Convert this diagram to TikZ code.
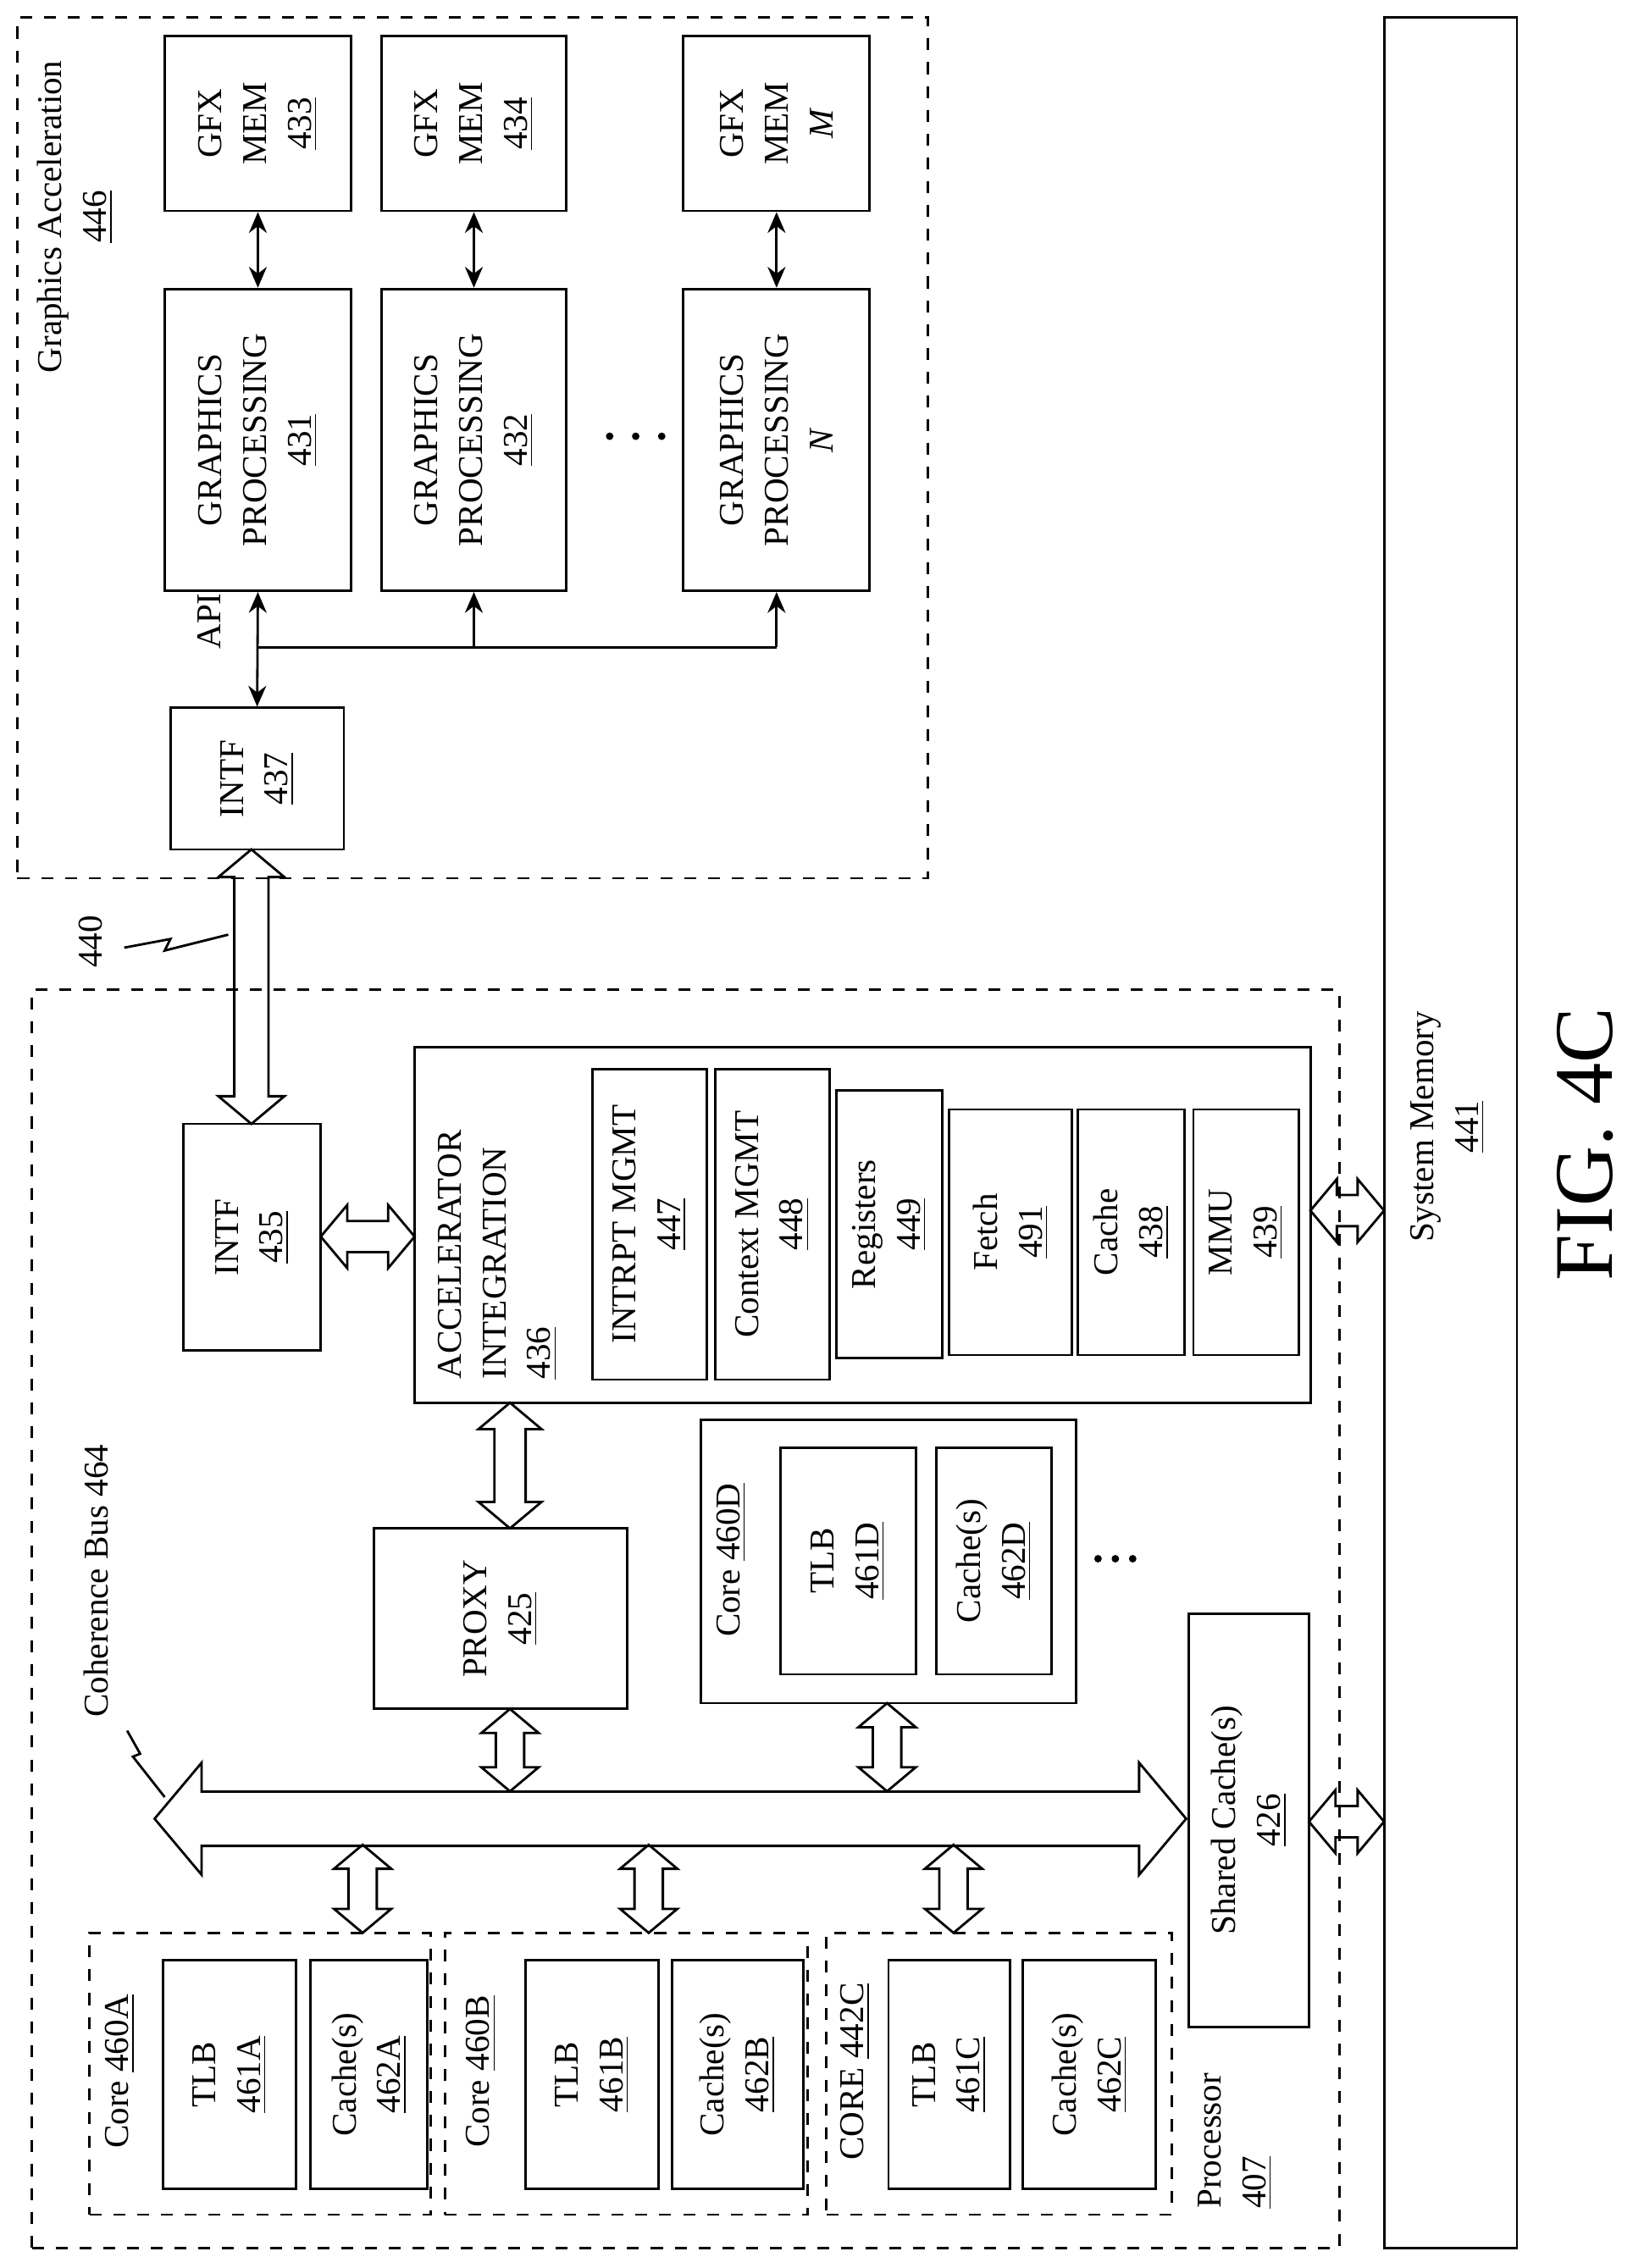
\documentclass[tikz,border=0pt]{standalone}
\usepackage{fontspec}
\setmainfont{Liberation Serif}
\usepackage{tikz}
\usetikzlibrary{arrows.meta, shapes.arrows, positioning, fit, calc}

\newcommand{\pu}{0.01706cm}

\begin{document}
\begin{tikzpicture}[
    x=0.01706cm, y=-0.01706cm,
    blk/.style={draw, line width=0.8pt, inner sep=0pt},
    dbox/.style={draw, line width=0.8pt, dash pattern=on 4pt off 4pt, inner sep=0pt},
    txt/.style={rotate=90, align=center, font=\fontsize{11.7}{15}\selectfont},
    link/.style={<->, >={Stealth[length=7pt, width=6pt]}, line width=0.8pt},
    harrow/.style={double arrow, draw, line width=0.8pt, inner xsep=0pt, double arrow tip angle=100}
]
\useasboundingbox (0,0) rectangle (1130,1570);

% graphics acceleration
\node[dbox, fit={(12,12)(642,608)}] (ga446) {};
\node[txt] (ga446t) at (52,150) {Graphics Acceleration\\\underline{446}};

\node[blk, fit={(114,25)(243,146)}] (gm433) {};
\node[txt] at (gm433) {GFX\\MEM\\\underline{433}};
\node[blk, fit={(264,25)(392,146)}] (gm434) {};
\node[txt] at (gm434) {GFX\\MEM\\\underline{434}};
\node[blk, fit={(473,25)(602,146)}] (gmM) {};
\node[txt] at (gmM) {GFX\\MEM\\\textit{M}};

\node[blk, fit={(114,200)(243,409)}] (gp431) {};
\node[txt] at (gp431) {GRAPHICS\\PROCESSING\\\underline{431}};
\node[blk, fit={(264,200)(392,409)}] (gp432) {};
\node[txt] at (gp432) {GRAPHICS\\PROCESSING\\\underline{432}};
\node[blk, fit={(473,200)(602,409)}] (gpN) {};
\node[txt] at (gpN) {GRAPHICS\\PROCESSING\\\textit{N}};
\foreach \xx in {422,440,458} \fill (\xx,302) circle (2.6);

\node[blk, fit={(118,490)(238,588)}] (intf437) {};
\node[txt] at (intf437) {INTF\\\underline{437}};
\node[txt] (api) at (145,430) {API};

\draw[link] (gm433) -- (gp431);
\draw[link] (gm434) -- (gp432);
\draw[link] (gmM) -- (gpN);
\draw[link] (intf437.north) -- (gp431.south);
\coordinate (busL) at (178,448);
\coordinate (busR) at (gpN.south |- busL);
\draw[line width=0.8pt] (busL) -- (busR);
\draw[link, <-] (gp432.south) -- (gp432.south |- busL);
\draw[link, <-] (gpN.south) -- (busR);

% link 440
\node[txt] (l440) at (63,652) {440};
\draw[line width=0.8pt] (86,656) -- (118,650) -- (114,658) -- (158,647);

% processor
\node[dbox, fit={(22,685)(927,1556)}] (proc407) {};
\node[txt, anchor=north west, align=left] (proc407t) at (822,1536) {Processor\\\underline{407}};

\node[blk, fit={(127,778)(222,935)}] (intf435) {};
\node[txt] at (intf435) {INTF\\\underline{435}};
\node[harrow, rotate=90, minimum height=190*\pu, inner ysep=11*\pu, double arrow head extend=11*\pu] (a440) at (174,683) {};

\node[blk, fit={(287,725)(907,971)}] (acc436) {};
\node[txt, anchor=north west, align=left] at (296,962) {ACCELERATOR\\INTEGRATION\\\underline{436}};
\node[blk, fit={(410,740)(489,955)}] (im447) {};
\node[txt] at (im447) {INTRPT MGMT\\\underline{447}};
\node[blk, fit={(495,740)(574,955)}] (cm448) {};
\node[txt] at (cm448) {Context MGMT\\\underline{448}};
\node[blk, fit={(579,755)(652,940)}] (reg449) {};
\node[txt] at (reg449) {Registers\\\underline{449}};
\node[blk, fit={(657,768)(742,938)}] (fet491) {};
\node[txt] at (fet491) {Fetch\\\underline{491}};
\node[blk, fit={(746,768)(820,938)}] (cac438) {};
\node[txt] at (cac438) {Cache\\\underline{438}};
\node[blk, fit={(826,768)(899,938)}] (mmu439) {};
\node[txt] at (mmu439) {MMU\\\underline{439}};

\node[blk, fit={(259,1058)(434,1183)}] (prx425) {};
\node[txt] at (prx425) {PROXY\\\underline{425}};

\node[blk, fit={(485,983)(745,1179)}] (core460D) {};
\node[txt] at (506,1080) {Core \underline{460D}};
\node[blk, fit={(540,1002)(634,1159)}] (tlb461D) {};
\node[txt] at (tlb461D) {TLB\\\underline{461D}};
\node[blk, fit={(648,1002)(728,1159)}] (cac462D) {};
\node[txt] at (cac462D) {Cache(s)\\\underline{462D}};
\foreach \xx in {760,772,784} \fill (\xx,1079) circle (2.6);

\node[blk, fit={(823,1117)(906,1403)}] (sc426) {};
\node[txt] at (sc426) {Shared Cache(s)\\\underline{426}};

% cores
\node[dbox, fit={(62,1338)(298,1533)}] (core460A) {};
\node[txt] at (83,1434) {Core \underline{460A}};
\node[blk, fit={(113,1357)(205,1515)}] (tlb461A) {};
\node[txt] at (tlb461A) {TLB\\\underline{461A}};
\node[blk, fit={(215,1357)(296,1515)}] (cac462A) {};
\node[txt] at (cac462A) {Cache(s)\\\underline{462A}};

\node[dbox, fit={(308,1338)(559,1533)}] (core460B) {};
\node[txt] at (333,1434) {Core \underline{460B}};
\node[blk, fit={(364,1357)(456,1515)}] (tlb461B) {};
\node[txt] at (tlb461B) {TLB\\\underline{461B}};
\node[blk, fit={(465,1357)(556,1515)}] (cac462B) {};
\node[txt] at (cac462B) {Cache(s)\\\underline{462B}};

\node[dbox, fit={(572,1338)(811,1533)}] (core442C) {};
\node[txt] at (592,1434) {CORE \underline{442C}};
\node[blk, fit={(615,1357)(699,1515)}] (tlb461C) {};
\node[txt] at (tlb461C) {TLB\\\underline{461C}};
\node[blk, fit={(708,1357)(800,1515)}] (cac462C) {};
\node[txt] at (cac462C) {Cache(s)\\\underline{462C}};

% system memory
\node[blk, fit={(958,12)(1050,1556)}] (sm441) {};
\node[txt] at (1002,780) {System Memory\\\underline{441}};
\node[rotate=90, font=\fontsize{28}{30}\selectfont] (fig) at (1097,792) {FIG. 4C};

% coherence bus
\node[harrow, minimum height=714*\pu, inner ysep=18*\pu, double arrow head extend=20*\pu] (bus464) at (464,1259) {};
\node[txt, anchor=south west] (bus464t) at (82,1196) {Coherence Bus 464};
\draw[line width=0.8pt] (88,1198) -- (97,1214) -- (92,1216) -- (114,1244);

% hollow links
\node[harrow, minimum height=65*\pu, inner ysep=10*\pu, double arrow head extend=11*\pu] (aIA) at (254.5,856) {};
\node[harrow, rotate=90, minimum height=87*\pu, inner ysep=10*\pu, double arrow head extend=11*\pu] (aAP) at (353,1014.5) {};
\node[harrow, minimum height=51*\pu, inner ysep=10*\pu, double arrow head extend=11*\pu] (aAS) at (932.5,838) {};
\node[harrow, rotate=90, minimum height=57*\pu, inner ysep=9*\pu, double arrow head extend=10*\pu] (aPB) at (353,1211.5) {};
\node[harrow, rotate=90, minimum height=61*\pu, inner ysep=9*\pu, double arrow head extend=10*\pu] (aDB) at (614,1209.5) {};
\node[harrow, rotate=90, minimum height=61*\pu, inner ysep=9*\pu, double arrow head extend=10*\pu] (aBA) at (251,1307.5) {};
\node[harrow, rotate=90, minimum height=61*\pu, inner ysep=9*\pu, double arrow head extend=10*\pu] (aBB) at (449,1307.5) {};
\node[harrow, rotate=90, minimum height=61*\pu, inner ysep=9*\pu, double arrow head extend=10*\pu] (aBC) at (660,1307.5) {};
\node[harrow, minimum height=52*\pu, inner ysep=10*\pu, double arrow head extend=11*\pu] (aSS) at (932,1261) {};

\end{tikzpicture}
\end{document}
